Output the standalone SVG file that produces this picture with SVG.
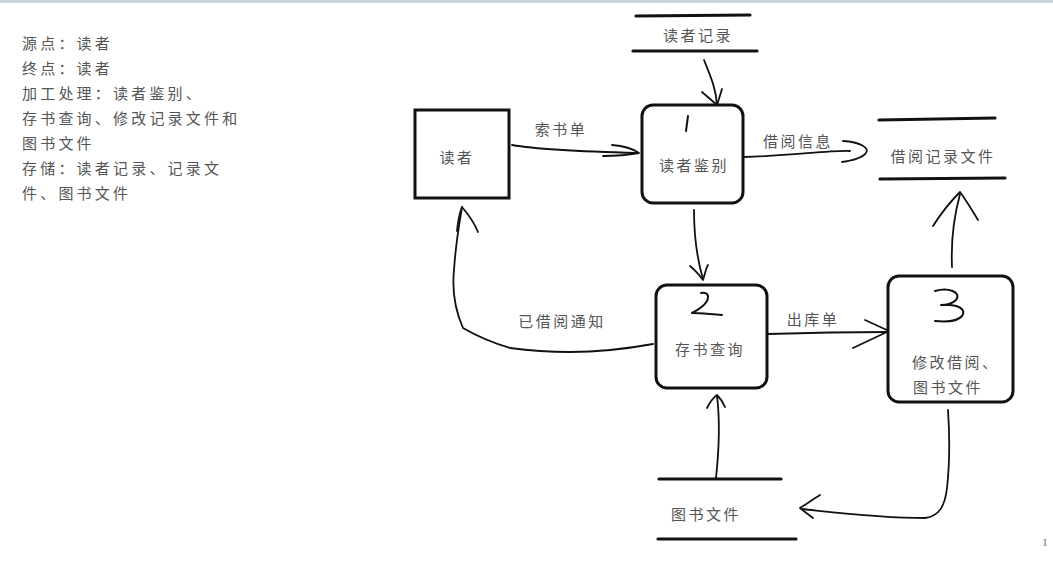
<svg xmlns="http://www.w3.org/2000/svg" width="1053" height="563" viewBox="0 0 1053 563">
<style>
  .t { font-family: "Noto Sans CJK SC", "Liberation Sans", sans-serif; font-size: 15px; letter-spacing: 3.2px; fill: #555; }
  .lbl { font-family: "Noto Sans CJK SC", "Liberation Sans", sans-serif; font-size: 15px; letter-spacing: 2.5px; fill: #555; }
  .box { fill: #fff; stroke: #111; stroke-width: 3; }
  .st { stroke: #111; stroke-width: 3.2; fill: none; stroke-linecap: round; }
  .c { stroke: #111; stroke-width: 1.8; fill: none; stroke-linecap: round; stroke-linejoin: round; }
  .num { stroke: #111; stroke-width: 2; fill: none; stroke-linecap: round; stroke-linejoin: round; }
</style>
<rect x="0" y="0" width="1053" height="563" fill="#fff"/>
<rect x="0" y="0" width="1053" height="3" fill="#ccd3dd"/>

<g id="legend">
  <text class="t" x="22" y="49">源点：读者</text>
  <text class="t" x="22" y="74">终点：读者</text>
  <text class="t" x="22" y="99">加工处理：读者鉴别、</text>
  <text class="t" x="22" y="124">存书查询、修改记录文件和</text>
  <text class="t" x="22" y="149">图书文件</text>
  <text class="t" x="22" y="174">存储：读者记录、记录文</text>
  <text class="t" x="22" y="199">件、图书文件</text>
</g>

<g id="connectors">
  <!-- 读者记录 -> 读者鉴别 -->
  <path class="c" d="M704,60 C710,75 716,88 717,105"/>
  <path class="c" d="M702,92 L717,105 L722,89"/>
  <!-- 索书单 -->
  <path class="c" d="M512,145 C540,150 600,152 638,153"/>
  <path class="c" d="M612,145 C625,146 632,148 639,153 C628,155 618,156 603,156"/>
  <text class="lbl" x="561" y="135" text-anchor="middle">索书单</text>
  <!-- 借阅信息 -->
  <path class="c" d="M744,157 C790,156 830,150 850,151"/>
  <path class="c" d="M843,141 C860,142 870,148 866,153 C862,158 850,161 842,162"/>
  <text class="lbl" x="798" y="147" text-anchor="middle">借阅信息</text>
  <!-- 读者鉴别 -> 存书查询 -->
  <path class="c" d="M694,210 C694,240 698,262 703,279"/>
  <path class="c" d="M690,266 C695,270 700,276 703,280 C705,274 706,268 708,265"/>
  <!-- 已借阅通知 -->
  <path class="c" d="M653,344 C620,350 590,352 570,352 C545,352 525,350 510,348 C490,342 475,335 463,328 C455,310 452,290 454,270 C456,240 460,220 462,207"/>
  <path class="c" d="M457,231 C458,220 460,212 462,207 C468,214 474,222 478,232"/>
  <text class="lbl" x="562" y="327" text-anchor="middle">已借阅通知</text>
  <!-- 出库单 -->
  <path class="c" d="M768,334 C800,333 850,332 888,332"/>
  <path class="c" d="M865,320 L889,331 L853,348"/>
  <text class="lbl" x="813" y="325" text-anchor="middle">出库单</text>
  <!-- 修改 -> 借阅记录文件 -->
  <path class="c" d="M952,267 C951,245 953,220 960,194"/>
  <path class="c" d="M933,226 C940,215 950,202 960,192 C966,200 972,210 978,220"/>
  <!-- 修改 -> 图书文件 -->
  <path class="c" d="M948,410 C950,440 949,470 947,488 C945,505 940,516 925,518 C880,518 840,513 802,509"/>
  <path class="c" d="M820,495 C812,500 805,505 800,508 C805,512 809,515 813,518"/>
  <!-- 图书文件 -> 存书查询 -->
  <path class="c" d="M716,478 C719,450 720,420 717,396"/>
  <path class="c" d="M707,408 C710,402 714,397 717,395 C720,398 723,402 725,407"/>
</g>

<g id="reader">
  <rect class="box" x="415" y="110" width="94" height="88"/>
  <text class="lbl" x="457" y="163" text-anchor="middle">读者</text>
</g>

<g id="p1">
  <rect class="box" x="642" y="105" width="101" height="98" rx="11"/>
  <path class="num" d="M688,116 L686,131"/>
  <text class="lbl" x="694" y="171" text-anchor="middle">读者鉴别</text>
</g>

<g id="p2">
  <rect class="box" x="656" y="285" width="111" height="103" rx="11"/>
  <path class="num" d="M701,293 C706,292 710,294 707,301 C704,306 698,310 692,313 C700,313 708,314 722,315"/>
  <text class="lbl" x="710" y="355" text-anchor="middle">存书查询</text>
</g>

<g id="p3">
  <rect class="box" x="888" y="276" width="125" height="126" rx="11"/>
  <path class="num" d="M935,291 C948,287 962,292 956,300 C952,304 945,305 941,305 C958,304 967,309 962,316 C957,322 945,322 935,321"/>
  <text class="lbl" x="912" y="368">修改借阅、</text>
  <text class="lbl" x="913" y="393">图书文件</text>
</g>

<g id="store-reader">
  <path class="st" d="M636,16 L750,15"/>
  <path class="st" d="M633,51 L757,51"/>
  <text class="lbl" x="698" y="41" text-anchor="middle">读者记录</text>
</g>

<g id="store-borrow">
  <path class="st" d="M879,120 L995,118"/>
  <path class="st" d="M880,179 L1005,178"/>
  <text class="lbl" x="943" y="162" text-anchor="middle">借阅记录文件</text>
</g>

<g id="store-book">
  <path class="st" d="M659,479 L781,479"/>
  <path class="st" d="M658,539 L796,539"/>
  <text class="lbl" x="706" y="520" text-anchor="middle">图书文件</text>
</g>

<text x="1045" y="546" font-family="Liberation Serif, serif" font-size="11" fill="#777" text-anchor="middle">I</text>
</svg>
